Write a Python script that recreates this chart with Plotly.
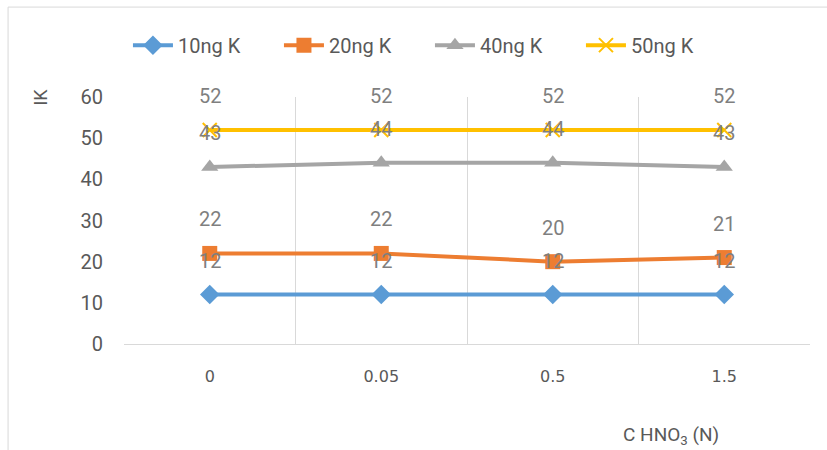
import plotly.graph_objects as go

# Acid concentration categories and measured values per potassium load
concentrations = ["0", "0.05", "0.5", "1.5"]
series_names = ["10ng K", "20ng K", "40ng K", "50ng K"]
k10 = [12, 12, 12, 12]
k20 = [22, 22, 20, 21]
k40 = [43, 44, 44, 43]
k50 = [52, 52, 52, 52]
y_ticks = [0, 10, 20, 30, 40, 50, 60]

values = [k10, k20, k40, k50]
colors = ["#5B9BD5", "#ED7D31", "#A5A5A5", "#FFC000"]
symbols = ["diamond", "square", "triangle-up", "x-thin-open"]
sizes = [15, 15, 15, 14]

FONT = "Roboto, Noto Sans, sans-serif"

fig = go.Figure()
for name, vals, col, sym, sz in zip(series_names, values, colors, symbols, sizes):
    marker = dict(symbol=sym, size=sz, color=col)
    if sym.startswith("x-thin"):
        marker["line"] = dict(color=col, width=2)
    fig.add_trace(go.Scatter(
        x=concentrations, y=vals, name=name, mode="lines+markers",
        line=dict(color=col, width=4), marker=marker,
    ))

# value labels sitting above each point (category index as x position)
annotations = []
for vals in values:
    for idx, v in enumerate(vals):
        annotations.append(dict(
            x=idx, y=v, xref="x", yref="y", text=str(v), showarrow=False,
            yshift=34, font=dict(family=FONT, size=20, color="#7F7F7F"),
        ))

# axis titles
annotations.append(dict(
    x=-0.123, y=1.0, xref="paper", yref="paper", text="IK", showarrow=False,
    textangle=-90, xanchor="center", yanchor="middle",
    font=dict(family=FONT, size=18, color="#595959"),
))
annotations.append(dict(
    x=0.797, y=-0.37, xref="paper", yref="paper", text="C HNO<sub>3</sub> (N)",
    showarrow=False, xanchor="center", yanchor="middle",
    font=dict(family=FONT, size=19, color="#595959"),
))

fig.update_layout(
    width=827, height=450,
    margin=dict(l=124, r=17, t=97, b=106),
    paper_bgcolor="white", plot_bgcolor="white",
    showlegend=True,
    legend=dict(
        orientation="h", x=0.446, y=1.21, xanchor="center", yanchor="middle",
        font=dict(family=FONT, size=20, color="#595959"),
        entrywidth=96, entrywidthmode="pixels", itemwidth=40,
    ),
    annotations=annotations,
    shapes=[dict(
        type="rect", xref="paper", yref="paper",
        x0=-0.169, x1=1.05, y0=-0.5, y1=1.364,
        line=dict(color="#D9D9D9", width=1), fillcolor="rgba(0,0,0,0)",
    )],
)

fig.update_xaxes(
    type="category", tickson="boundaries", range=[-0.5, 3.5],
    showgrid=True, gridcolor="#D9D9D9", gridwidth=1,
    showline=True, linecolor="#D9D9D9", linewidth=1,
    ticks="", ticklabelstandoff=18,
    tickfont=dict(family="DejaVu Sans, sans-serif", size=16, color="#595959"),
    zeroline=False,
)
fig.update_yaxes(
    range=[0, 60], tickvals=y_ticks, showgrid=False, zeroline=False,
    showline=False, ticks="", ticklabelstandoff=20,
    tickfont=dict(family=FONT, size=20, color="#595959"),
)

fig.write_html("out.html")
